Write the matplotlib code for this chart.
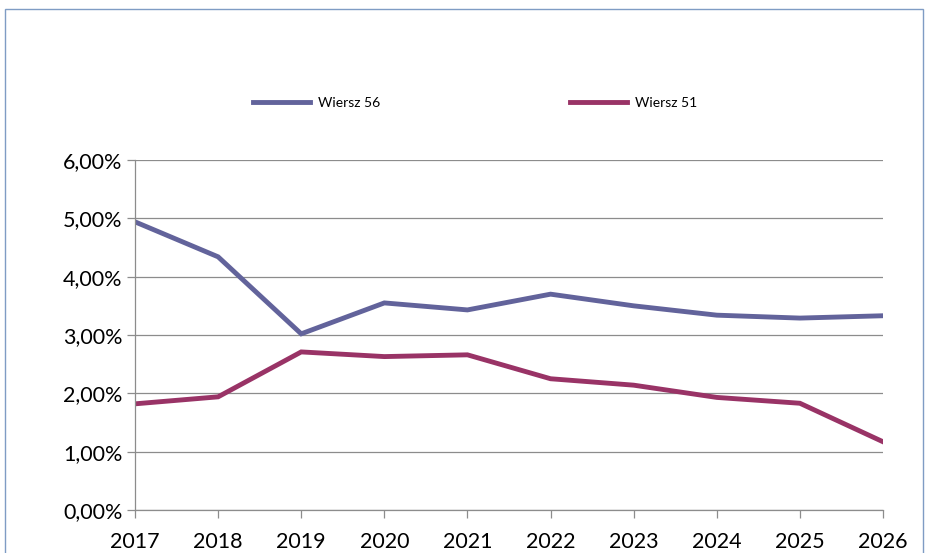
import matplotlib
matplotlib.use("Agg")
import matplotlib.pyplot as plt
from matplotlib.patches import Rectangle
from matplotlib.ticker import FuncFormatter

years = [2017, 2018, 2019, 2020, 2021, 2022, 2023, 2024, 2025, 2026]
wiersz56 = [4.94, 4.34, 3.02, 3.55, 3.43, 3.70, 3.50, 3.34, 3.29, 3.33]
wiersz51 = [1.82, 1.94, 2.71, 2.63, 2.66, 2.25, 2.14, 1.93, 1.83, 1.17]
labels = ["Wiersz 56", "Wiersz 51"]
colors = ["#62639b", "#993366"]

plt.rcParams['font.family'] = ['Lato', 'DejaVu Sans']

W, H = 926, 553
fig = plt.figure(figsize=(W / 100, H / 100), dpi=100)
ax = fig.add_axes([135 / W, 1 - 510 / H, (883 - 135) / W, (510 - 160) / H])

ax.plot(years, wiersz56, color=colors[0], lw=3.5, label=labels[0], solid_joinstyle='miter')
ax.plot(years, wiersz51, color=colors[1], lw=3.5, label=labels[1], solid_joinstyle='miter')

ax.set_xlim(years[0], years[-1])
ax.set_ylim(0, 6)
ax.set_yticks([0, 1, 2, 3, 4, 5, 6])
ax.yaxis.set_major_formatter(FuncFormatter(lambda v, p: f"{v:.2f}%".replace('.', ',')))
ax.set_xticks(years)
ax.set_xticklabels([str(y) for y in years])
ax.grid(axis='y', color='#8c8c8c', lw=0.9)
ax.set_axisbelow(True)
for s in ['top', 'right']:
    ax.spines[s].set_visible(False)
for s in ['left', 'bottom']:
    ax.spines[s].set_color('#8c8c8c')
    ax.spines[s].set_linewidth(0.9)
ax.tick_params(axis='both', which='major', length=6, color='#8c8c8c', width=0.9,
               labelsize=15.5, labelcolor='black', direction='out')
ax.tick_params(axis='x', pad=10)
ax.tick_params(axis='y', pad=3)

leg = fig.legend(loc='center left', bbox_to_anchor=(253 / W, 1 - 103 / H), ncol=2,
                 frameon=False, fontsize=10, handlelength=4.1, handletextpad=0.55,
                 columnspacing=13.7, borderaxespad=0, borderpad=0)

fig.patches.append(Rectangle((5 / W, -0.1), (923 - 5) / W, 1.1 - 9 / H,
                             transform=fig.transFigure, fill=False,
                             edgecolor='#7f9cc4', lw=1.0))

fig.savefig('out.png', dpi=100)
